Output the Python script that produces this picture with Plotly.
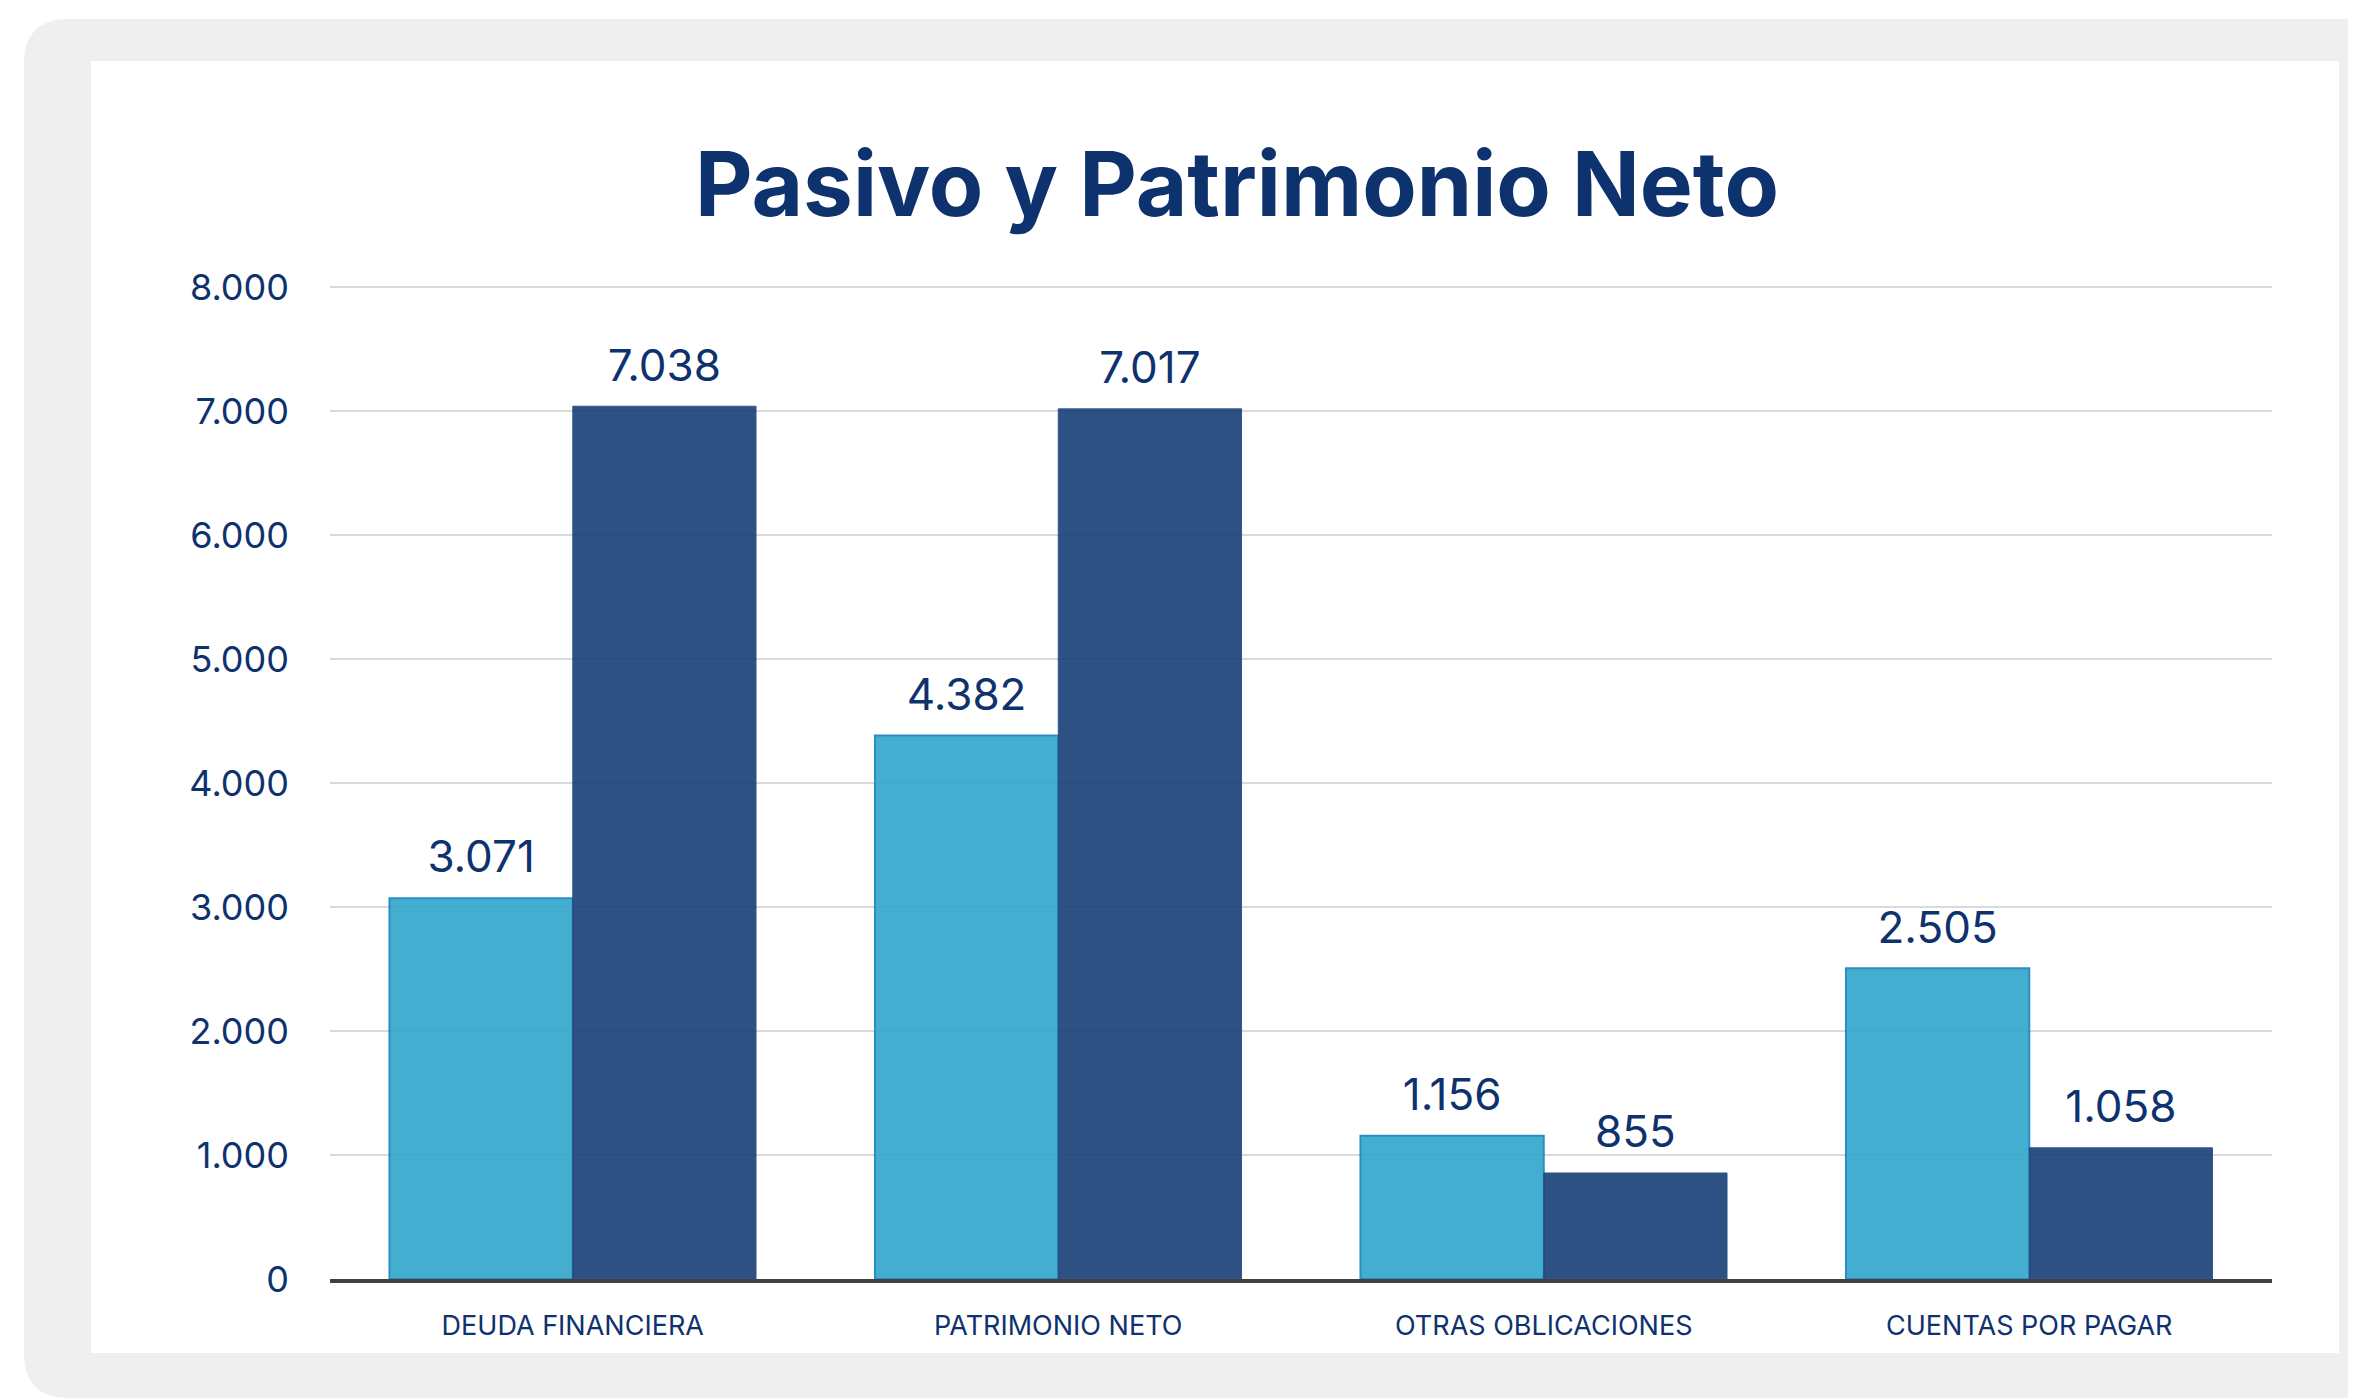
import plotly.graph_objects as go

# ---- data ----
categorias = ["DEUDA FINANCIERA", "PATRIMONIO NETO", "OTRAS OBLICACIONES", "CUENTAS POR PAGAR"]
serie_a = [3071, 4382, 1156, 2505]
serie_b = [7038, 7017, 855, 1058]
y_ticks = [0, 1000, 2000, 3000, 4000, 5000, 6000, 7000, 8000]
y_max = 8032  # a little headroom so the 8.000 gridline is drawn

# ---- page geometry (screen pixels, page body has an 8px margin) ----
OFF = 8
SW, SH = 2356, 1398
W, H = SW - OFF, SH - OFF
PL, PR, PB = 330, 2272, 1279
PT = PB - (PB - 287) * y_max / 8000
NAVY = "#0E326E"
FONT = "Inter, Lato, sans-serif"
GAP = 0.245


def px_x(x):
    return (x - PL) / (PR - PL)


def px_y(y):
    return (PB - y) / (PB - PT)


def rounded_rect(x0, y0, x1, y1, r):
    X = px_x
    Y = px_y
    return (
        f"M {X(x0 + r)},{Y(y0)} L {X(x1 - r)},{Y(y0)} Q {X(x1)},{Y(y0)} {X(x1)},{Y(y0 + r)} "
        f"L {X(x1)},{Y(y1 - r)} Q {X(x1)},{Y(y1)} {X(x1 - r)},{Y(y1)} "
        f"L {X(x0 + r)},{Y(y1)} Q {X(x0)},{Y(y1)} {X(x0)},{Y(y1 - r)} "
        f"L {X(x0)},{Y(y0 + r)} Q {X(x0)},{Y(y0)} {X(x0 + r)},{Y(y0)} Z"
    )


fig = go.Figure()

# bars
fig.add_trace(
    go.Bar(
        x=categorias, y=serie_a, offsetgroup="a",
        marker=dict(color="#35A8CE", opacity=0.92, line=dict(color="#1B84C0", width=2)),
        hoverinfo="skip", name="A",
    )
)
fig.add_trace(
    go.Bar(
        x=categorias, y=serie_b, offsetgroup="b",
        marker=dict(color="#1D437A", opacity=0.92, line=dict(color="#24487E", width=1)),
        hoverinfo="skip", name="B",
    )
)

# value labels, grouped the same way as the bars
for vals, grp in [(serie_a, "a"), (serie_b, "b")]:
    fig.add_trace(
        go.Scatter(
            x=categorias, y=vals, offsetgroup=grp,
            mode="markers+text",
            marker=dict(size=22, opacity=0),
            texttemplate="%{y:,.0f}",
            textposition="top center",
            textfont=dict(size=44, color=NAVY, family=FONT),
            cliponaxis=False,
            hoverinfo="skip",
        )
    )

# card background
fig.add_shape(
    type="path", xref="paper", yref="paper", layer="below",
    path=rounded_rect(24, 19, 2440, 1398, 45),
    fillcolor="#EFEFEF", line=dict(width=0),
)
fig.add_shape(
    type="rect", xref="paper", yref="paper", layer="below",
    x0=px_x(91), x1=px_x(2339), y0=px_y(1353), y1=px_y(61),
    fillcolor="white", line=dict(width=0),
)

fig.update_layout(
    width=W,
    height=H,
    margin=dict(l=PL - OFF, r=SW - PR, t=PT - OFF, b=SH - PB, pad=0),
    paper_bgcolor="white",
    plot_bgcolor="rgba(0,0,0,0)",
    separators=",.",
    showlegend=False,
    barmode="group",
    bargap=GAP,
    bargroupgap=0,
    scattermode="group",
    scattergap=GAP,
    font=dict(family=FONT, color=NAVY),
    title=dict(
        text="<b>Pasivo y Patrimonio Neto</b>",
        x=(1237 - OFF) / W, xanchor="center",
        y=1 - (185 - OFF) / H, yanchor="middle",
        font=dict(size=89, color=NAVY, family=FONT),
    ),
    xaxis=dict(
        showline=True, linecolor="#404040", linewidth=4,
        showgrid=False, ticks="",
        tickfont=dict(size=27, color=NAVY),
        ticklabelstandoff=20,
    ),
    yaxis=dict(
        range=[0, y_max],
        tickvals=y_ticks,
        tickformat=",.0f",
        showgrid=True, gridcolor="#D9D9D9", gridwidth=2,
        zeroline=False,
        tickfont=dict(size=36, color=NAVY),
        ticklabelstandoff=40,
    ),
)

fig.write_html("out.html")
